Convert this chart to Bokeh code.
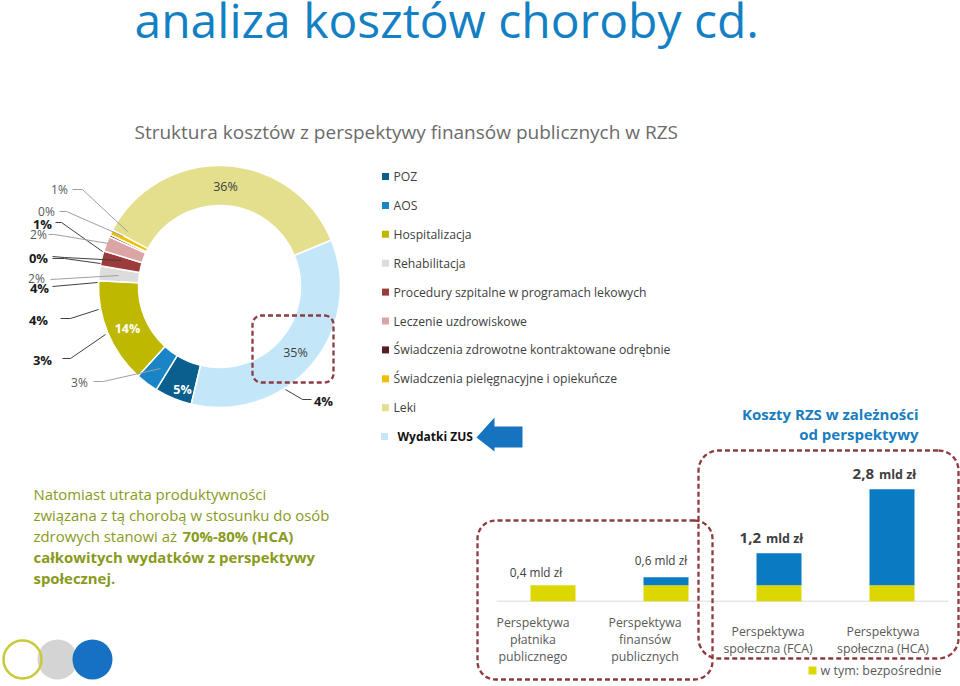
import numpy as np
from bokeh.plotting import figure
from bokeh.models import Range1d
from bokeh.core.properties import value
from bokeh.embed import file_html
from bokeh.resources import INLINE

# ---------------- data ----------------
title_text = "analiza kosztów choroby cd."
subtitle_text = "Struktura kosztów z perspektywy finansów publicznych w RZS"

donut_categories = ["POZ", "AOS", "Hospitalizacja", "Rehabilitacja",
                    "Procedury szpitalne w programach lekowych",
                    "Leczenie uzdrowiskowe",
                    "Świadczenia zdrowotne kontraktowane odrębnie",
                    "Świadczenia pielęgnacyjne i opiekuńcze",
                    "Leki", "Wydatki ZUS"]
donut_values = [5, 3, 14, 2, 2, 2, 0.3, 0.7, 36, 35]
donut_colors = ["#0b5f8e", "#1984c6", "#bfb800", "#dcdcdc", "#9c3b3b",
                "#dba5a5", "#5a1e22", "#f0c000", "#e3df8c", "#c4e6f9"]
donut_inner_labels = ["5%", "", "14%", "", "", "", "", "", "36%", "35%"]
outer_label_texts = ["1%", "0%", "1%", "2%", "0%", "2%", "4%", "4%", "3%", "3%", "4%"]
outer_label_bold = [False, False, True, False, True, False, True, True, True, False, True]

bar_categories = ["Perspektywa\npłatnika\npublicznego",
                  "Perspektywa\nfinansów\npublicznych",
                  "Perspektywa\nspołeczna (FCA)",
                  "Perspektywa\nspołeczna (HCA)"]
bar_direct = [0.4, 0.4, 0.4, 0.4]
bar_indirect = [0.0, 0.2, 0.8, 2.4]
bar_total_labels = ["0,4", "0,6", "1,2", "2,8"]
bar_label_bold = [False, False, True, True]

# ---------------- layout helpers ----------------
W, H = 960, 686
FONT = "Open Sans"


def X(px):
    return np.asarray(px, dtype=float)


def Y(py):
    return H - np.asarray(py, dtype=float)


p = figure(width=W, height=H, output_backend="svg", toolbar_location=None,
           x_range=Range1d(0, W), y_range=Range1d(0, H),
           x_axis_location=None, y_axis_location=None, min_border=0)
p.grid.visible = False
p.outline_line_color = None
p.background_fill_color = "white"
p.border_fill_color = "white"

# bar value scale: 0 at baseline, 40 px per mld
base_py = 600.7
ppu = 40.0
base_data = float(Y(base_py))
p.extra_y_ranges = {"bars": Range1d(-base_data / ppu, (H - base_data) / ppu)}


def txt(x, y, s, size, color, bold=False, align="left", baseline="middle", **kw):
    p.text(x=[float(X(x))], y=[float(Y(y))], text=[s], text_font=value(FONT),
           text_font_size=f"{size}px", text_color=color,
           text_font_style="bold" if bold else "normal",
           text_align=align, text_baseline=baseline, **kw)


def rounded_rect(x0, y0, x1, y1, r, n=10):
    xs, ys = [], []
    corners = [(x1 - r, y0 + r, -90, 0), (x1 - r, y1 - r, 0, 90),
               (x0 + r, y1 - r, 90, 180), (x0 + r, y0 + r, 180, 270)]
    for cx, cy, a0, a1 in corners:
        for a in np.linspace(np.radians(a0), np.radians(a1), n):
            xs.append(cx + r * np.cos(a))
            ys.append(cy + r * np.sin(a))
    xs.append(xs[0]); ys.append(ys[0])
    return list(X(xs)), list(Y(ys))


# ---------------- titles ----------------
txt(134, 19, title_text, 48, "#1380c4")
txt(134, 131, subtitle_text, 19, "#6b6b6b")

# ---------------- donut ----------------
cx, cy, r_in, r_out = 219, 286, 81, 121
first_angle = 193.5  # clockwise from 12 o'clock
vals = np.array(donut_values, dtype=float)
frac = vals / vals.sum() * 360.0
cum = np.concatenate([[0], np.cumsum(frac)])
theta0 = first_angle + cum[:-1]
theta1 = first_angle + cum[1:]
start = np.radians(90 - theta0)
end = np.radians(90 - theta1)
p.annular_wedge(x=[float(X(cx))] * len(vals), y=[float(Y(cy))] * len(vals),
                inner_radius=r_in, outer_radius=r_out,
                start_angle=list(start), end_angle=list(end), direction="clock",
                fill_color=donut_colors, line_color="white", line_width=1.5)

# inner labels
inner_pos = {0: (182, 389, "white", True), 2: (127, 328, "white", True),
             8: (225, 186, "#404040", False), 9: (295, 352, "#404040", False)}
for i, (lx, ly, col, b) in inner_pos.items():
    txt(lx, ly, donut_inner_labels[i], 12.5, col, bold=b, align="center")

# outer labels with leader lines
outer_pos = [(59, 189), (46, 211), (42, 223), (38, 234), (38, 257), (36, 278),
             (39, 287), (38, 319), (42, 359), (79, 382), (323, 400)]
leaders = [[(72, 189), (82, 189), (127, 231)],
           [(59, 211), (66, 211), (123, 236)],
           [(55, 222), (61, 222), (102, 251)],
           [(48, 234), (54, 234), (108, 243)],
           [(52, 256), (64, 257), (121, 260)],
           [(50, 279), (118, 275)],
           [(52, 286), (97, 282)],
           [(60, 318), (70, 318), (98, 309)],
           [(62, 358), (70, 358), (105, 334)],
           [(93, 381), (103, 381), (160, 368)],
           [(285, 389), (302, 399), (311, 399)]]
lead_colors = ["#404040" if b else "#a0a0a0" for b in outer_label_bold]
p.multi_line(xs=[list(X([q[0] for q in L])) for L in leaders],
             ys=[list(Y([q[1] for q in L])) for L in leaders],
             line_color=lead_colors, line_width=1)
p.line(x=list(X([52, 64, 100])), y=list(Y([258, 258, 263])), line_color="#404040", line_width=1)
for (lx, ly), s, b in zip(outer_pos, outer_label_texts, outer_label_bold):
    txt(lx, ly, s, 13 if b else 12, "#1a1a1a" if b else "#595959", bold=b, align="center")

# donut dashed box
bx, by = rounded_rect(252, 315, 333, 382, 9)
p.line(x=bx, y=by, line_color="#8e3b40", line_width=2.3, line_dash="5 3")

# ---------------- legend ----------------
leg_y0, leg_dy = 176, 28.9
for i, (name, col) in enumerate(zip(donut_categories, donut_colors)):
    ly = leg_y0 + i * leg_dy
    if name == "Wydatki ZUS":
        p.rect(x=[float(X(384))], y=[float(Y(ly))], width=7, height=7, fill_color=col, line_color=None)
        txt(397, ly, name, 12, "#111111", bold=True)
    else:
        p.rect(x=[float(X(385))], y=[float(Y(ly))], width=7, height=7, fill_color=col, line_color=None)
        txt(393, ly, name, 12.2, "#404040")

# blue arrow
ax = [476, 494, 494, 522, 522, 494, 494]
ay = [437, 417, 426, 426, 447, 447, 451]
p.patch(x=list(X(ax)), y=list(Y(ay)), fill_color="#1573c0", line_color=None)

# ---------------- right heading ----------------
txt(918, 413, "Koszty RZS w zależności", 15, "#1a7dc0", bold=True, align="right")
txt(918, 433, "od perspektywy", 15, "#1a7dc0", bold=True, align="right")

# ---------------- left paragraph ----------------
green = "#8a9a1c"
fs = 14.9
txt(33, 493.5, "Natomiast utrata produktywności", fs, green)
txt(33, 514.5, "związana z tą chorobą w stosunku do osób", fs, green)
txt(33, 535.5, "zdrowych stanowi aż", fs, green)
txt(182, 535.5, "70%-80% (HCA)", fs, green, bold=True)
txt(33, 556, "całkowitych wydatków z perspektywy", fs, green, bold=True)
txt(33, 577, "społecznej.", fs, green, bold=True)

# ---------------- bars ----------------
bar_x0, bar_dx, bar_w = 552.5, 113.0, 45
bar_cx = [bar_x0 + i * bar_dx for i in range(len(bar_categories))]
direct = np.array(bar_direct)
total = direct + np.array(bar_indirect)
p.line(x=list(X([496, 948])), y=list(Y([base_py, base_py])), line_color="#d9d9d9", line_width=1)
p.vbar(x=list(X(bar_cx)), width=bar_w, bottom=0, top=list(direct),
       fill_color="#dcd700", line_color=None, y_range_name="bars")
p.vbar(x=list(X(bar_cx)), width=bar_w, bottom=list(direct), top=list(total),
       fill_color="#0a7bc2", line_color=None, y_range_name="bars")

lab_dx = [-17, -5, 0, 0]
lab_dy = [-13, -17, -15, -15]
for xc, t, lab, b, dx, dy in zip(bar_cx, total, bar_total_labels, bar_label_bold, lab_dx, lab_dy):
    if b:
        p.text(x=[float(X(xc))], y=[float(t)], text=[lab], y_range_name="bars",
               text_font=value(FONT), text_font_size="15px", text_font_style="bold",
               text_color="#404040", text_align="right", text_baseline="middle",
               x_offset=-18, y_offset=dy)
        p.text(x=[float(X(xc))], y=[float(t)], text=["mld zł"], y_range_name="bars",
               text_font=value(FONT), text_font_size="12.5px", text_font_style="bold",
               text_color="#404040", text_align="left", text_baseline="middle",
               x_offset=-13, y_offset=dy + 0.5)
    else:
        p.text(x=[float(X(xc))], y=[float(t)], text=[lab + " mld zł"], y_range_name="bars",
               text_font=value(FONT), text_font_size="11.8px",
               text_color="#404040", text_align="center", text_baseline="middle",
               x_offset=dx, y_offset=dy)

cat_offsets = [-20, -21, -11, -9]
for xc, off, lab in zip(bar_cx, cat_offsets, bar_categories):
    p.text(x=[float(X(xc + off))], y=[float(Y(639))], text=[lab],
           text_font=value(FONT), text_font_size="12.3px", text_color="#595959",
           text_align="center", text_baseline="middle", text_line_height=1.0)

# bottom legend
p.rect(x=[float(X(812))], y=[float(Y(670))], width=8, height=8, fill_color="#dcd700", line_color=None)
txt(820, 670, "w tym: bezpośrednie", 12.5, "#595959")

# dashed boxes around bars
for (x0, y0, x1, y1, rr) in [(477, 520, 712, 679, 18), (698, 450, 958, 658, 20)]:
    bx, by = rounded_rect(x0, y0, x1, y1, rr)
    p.line(x=bx, y=by, line_color="#8e3b40", line_width=2.3, line_dash="5 3")

# ---------------- decorative circles ----------------
p.circle(x=[float(X(57))], y=[float(Y(659))], radius=20, fill_color="#d4d4d4", line_color=None)
p.circle(x=[float(X(92))], y=[float(Y(659))], radius=20, fill_color="#1670c4", line_color=None)
p.circle(x=[float(X(22))], y=[float(Y(659))], radius=19, fill_color=None, line_color="#c9c93c", line_width=2.5)

open("out.html", "w").write(file_html(p, INLINE))
